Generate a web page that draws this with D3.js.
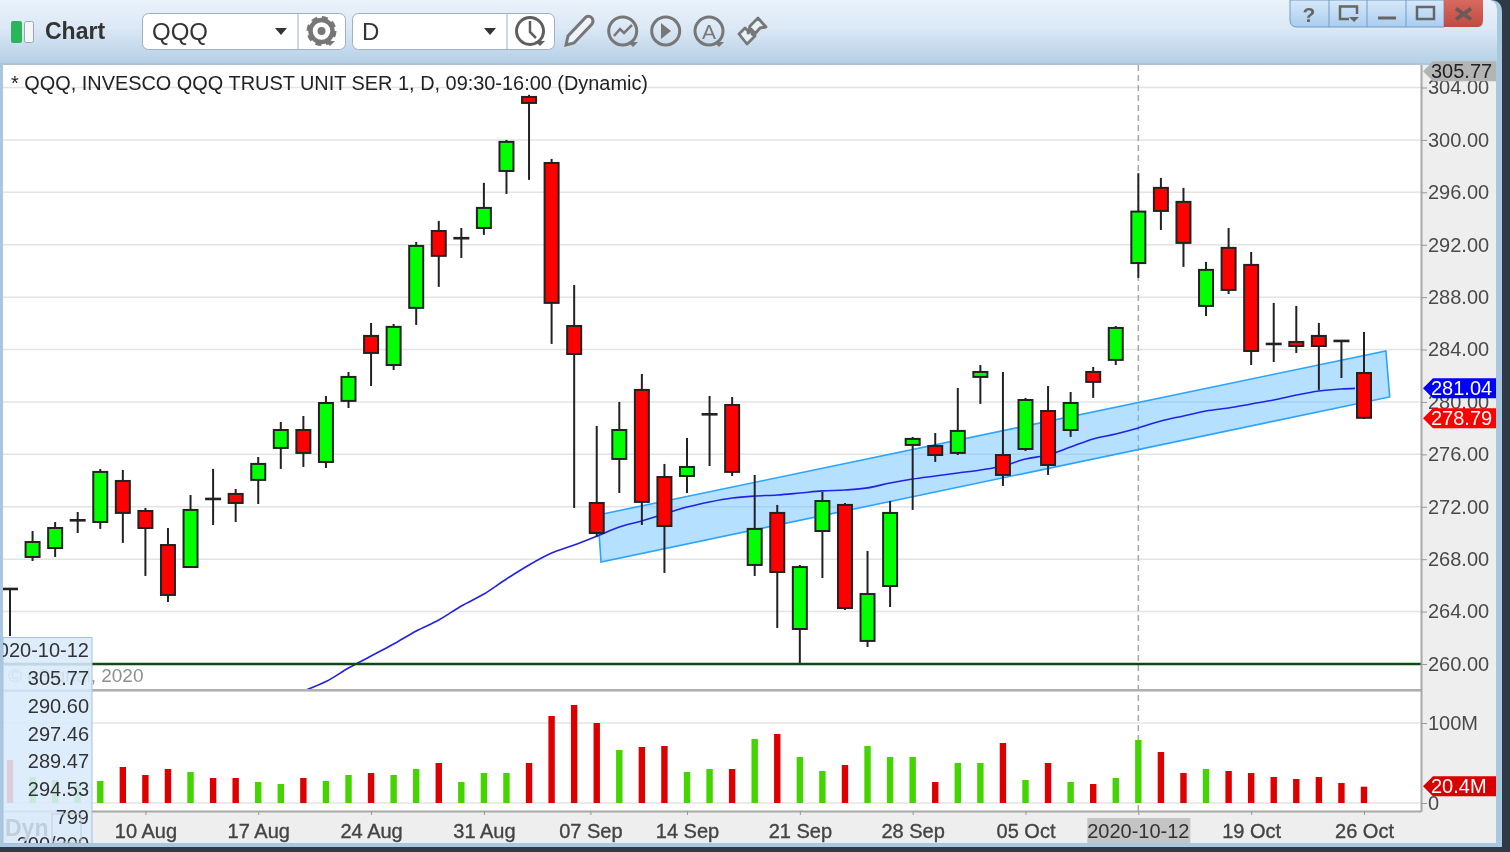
<!DOCTYPE html>
<html><head><meta charset="utf-8">
<script src="https://cdnjs.cloudflare.com/ajax/libs/d3/7.8.5/d3.min.js"></script>
<style>
html,body{margin:0;padding:0;background:#2e3a47;overflow:hidden}
svg{display:block;filter:blur(0.45px)}
text{font-family:"Liberation Sans",Arial,sans-serif}
</style></head><body><svg id="c" width="1510" height="852"></svg>
<script>
const dates=["2020-07-31","2020-08-03","2020-08-04","2020-08-05","2020-08-06","2020-08-07","2020-08-10","2020-08-11","2020-08-12","2020-08-13","2020-08-14","2020-08-17","2020-08-18","2020-08-19","2020-08-20","2020-08-21","2020-08-24","2020-08-25","2020-08-26","2020-08-27","2020-08-28","2020-08-31","2020-09-01","2020-09-02","2020-09-03","2020-09-04","2020-09-08","2020-09-09","2020-09-10","2020-09-11","2020-09-14","2020-09-15","2020-09-16","2020-09-17","2020-09-18","2020-09-21","2020-09-22","2020-09-23","2020-09-24","2020-09-25","2020-09-28","2020-09-29","2020-09-30","2020-10-01","2020-10-02","2020-10-05","2020-10-06","2020-10-07","2020-10-08","2020-10-09","2020-10-12","2020-10-13","2020-10-14","2020-10-15","2020-10-16","2020-10-19","2020-10-20","2020-10-21","2020-10-22","2020-10-23","2020-10-26"];
const opens=[265.75,268.17,268.85,270.97,270.84,273.97,271.68,269.08,267.40,272.62,272.98,274.05,276.49,277.86,275.42,280.08,285.04,282.82,287.18,293.05,292.50,293.28,297.63,303.28,298.24,285.80,272.29,275.65,280.92,274.27,274.35,279.06,279.77,267.56,271.53,262.67,270.15,272.14,261.76,265.95,276.72,276.64,276.11,281.91,275.95,276.41,279.31,277.86,282.29,283.21,290.60,296.34,295.27,287.33,291.76,290.46,284.45,284.58,285.04,284.68,282.21];
const highs=[265.80,270.15,270.84,271.60,274.89,274.81,271.91,270.38,272.90,274.89,273.36,275.80,278.47,278.93,280.46,282.29,286.03,285.95,292.21,293.82,293.28,296.72,300.00,303.44,298.55,288.93,278.17,280.00,282.14,275.27,277.25,280.46,280.38,274.43,272.14,267.56,273.13,272.29,268.63,272.44,277.33,277.63,281.07,282.82,282.29,280.31,281.22,280.76,282.67,285.80,297.46,297.10,296.34,290.69,293.28,291.45,287.56,287.33,286.03,284.73,285.34];
const lows=[262.14,267.86,268.17,270.00,270.31,269.24,266.72,264.73,267.40,270.61,270.84,272.21,274.89,275.04,274.96,279.54,281.22,282.44,285.88,288.78,290.99,292.75,295.88,296.95,284.43,271.91,269.69,273.05,270.61,266.95,273.05,275.11,274.35,266.72,262.75,260.08,266.56,264.12,261.30,264.35,271.76,275.42,275.95,279.85,273.59,276.26,274.43,277.33,280.31,282.82,289.47,293.13,290.31,286.56,288.24,282.82,283.05,283.74,280.92,281.83,278.70];
const closes=[265.72,269.31,270.38,270.99,274.66,271.53,270.38,265.27,271.76,272.60,272.29,275.27,277.86,276.11,279.92,281.91,283.74,285.73,291.91,291.15,292.52,294.81,299.85,302.82,287.56,283.66,270.00,277.86,272.37,270.53,275.04,279.08,274.66,270.31,267.02,267.40,272.44,264.27,265.34,271.53,277.18,275.95,277.79,282.29,274.43,280.15,275.19,279.92,281.53,285.65,294.53,294.58,292.14,290.08,288.55,283.89,284.43,284.27,284.27,284.66,278.79];
const volumes=[53.75,32.5,28.75,22.5,27.5,45,35,42.5,38.75,31.25,31.25,26.25,23.75,31.25,27.5,35,37.5,35,42.5,50,26.25,37.5,37.5,50,108.75,122.5,100,66.25,70,71.25,38.75,42.5,42.5,80,86.25,57.5,40,47.5,71.25,57.5,57.5,26.25,50,50,75,28.75,50,26.25,23.75,31.25,78.75,63.75,37.5,42.5,40,37.5,32.5,30,32.5,25,20.4];
const maIdx=[13,14,15,16,17,18,19,20,21,22,23,24,25,26,27,28,29,30,31,32,33,34,35,36,37,38,39,40,41,42,43,44,45,46,47,48,49,50,51,52,53,54,55,56,57,58,59,59.6];
const maVals=[257.94,258.66,259.69,260.61,261.53,262.52,263.36,264.43,265.34,266.49,267.56,268.47,269.08,269.75,270.45,270.92,271.45,271.98,272.37,272.67,272.82,272.90,273.05,273.21,273.28,273.44,273.82,274.12,274.35,274.58,274.81,275.11,275.65,275.95,276.56,277.18,277.56,278.02,278.55,278.93,279.31,279.54,279.85,280.15,280.53,280.84,280.99,281.04];
const channelIdx=[26.05,60.97,61.14,26.19];
const channelPrice=[271.37,283.89,280.38,267.79];
const priceTicks=[260,264,268,272,276,280,284,288,292,296,300,304];
const volTicks=[0,100];
const dateTickPos=[6,11,16,21,25.72,30,35,40,45,50,55,60];
const dateTickLabels=["10 Aug","17 Aug","24 Aug","31 Aug","07 Sep","14 Sep","21 Sep","28 Sep","05 Oct","2020-10-12","19 Oct","26 Oct"];
const legendRows=["305.77","290.60","297.46","289.47","294.53","799"];
const cursorIdx=50, lastHigh=305.77, maLast=281.04, lastClose=278.79, lastVol=20.4;

const svg=d3.select("#c");
const defs=svg.append("defs");
const grad=(id,stops)=>{const g=defs.append("linearGradient").attr("id",id).attr("x1",0).attr("y1",0).attr("x2",0).attr("y2",1);
 stops.forEach(s=>g.append("stop").attr("offset",s[0]).attr("stop-color",s[1]));};
grad("bar",[[0,"#eaf2fa"],[0.45,"#dbe8f5"],[1,"#b5d0e6"]]);
grad("btn",[[0,"#d8e8f8"],[1,"#a9cdf0"]]);
grad("close",[[0,"#d86a60"],[1,"#c04a42"]]);
defs.append("clipPath").attr("id","pc").append("rect").attr("x",3).attr("y",65).attr("width",1418).attr("height",624);

const x=d3.scaleLinear().domain([0,60]).range([10,1364]);
const y=d3.scaleLinear().domain([260,304]).range([664,87.5]);
const v=d3.scaleLinear().domain([0,100]).range([803,723]);

// window
svg.append("rect").attr("width",1510).attr("height",852).attr("fill","#2e3a47");
svg.append("path").attr("d","M0,847V0H1490Q1502,0 1502,12V847Z").attr("fill","#a9c8e0");
svg.append("path").attr("d","M0,63V0H1490Q1497,2 1497,10V63Z").attr("fill","url(#bar)");
svg.append("rect").attr("x",3).attr("y",65).attr("width",1418).attr("height",746).attr("fill","#fff");
svg.append("rect").attr("x",3).attr("y",812).attr("width",1493).attr("height",31).attr("fill","#eeeeee");
svg.append("rect").attr("x",1421).attr("y",65).attr("width",75).attr("height",778).attr("fill","#eeeeee");

// toolbar
const tb=svg.append("g");
tb.append("rect").attr("x",11).attr("y",21).attr("width",11).attr("height",22).attr("rx",2).attr("fill","#2cb45a");
tb.append("rect").attr("x",24.5).attr("y",21.5).attr("width",9).attr("height",21).attr("rx",2).attr("fill","#f4f6f8").attr("stroke","#9aa5b0");
tb.append("text").attr("x",45).attr("y",39).attr("font-size",23).attr("font-weight","bold").attr("fill","#333").text("Chart");
[[142.5,203,298,"QQQ",152,281],[352.5,202,507,"D",362,490]].forEach(b=>{
 tb.append("rect").attr("x",b[0]).attr("y",13.5).attr("width",b[1]).attr("height",36).attr("rx",6).attr("fill","#fff").attr("stroke","#9db0c4");
 tb.append("line").attr("x1",b[2]).attr("x2",b[2]).attr("y1",14).attr("y2",49).attr("stroke","#9db0c4");
 tb.append("text").attr("x",b[4]).attr("y",40).attr("font-size",24).attr("fill","#333").text(b[3]);
 tb.append("path").attr("d",`M${b[5]-6},28h12l-6,7z`).attr("fill","#333");
});
const ic="#777";
const tri=(cx,cy)=>tb.append("path").attr("d",`M${cx-5},${cy}h10l-5,5z`).attr("fill",ic);
// gear
tb.append("circle").attr("cx",321.5).attr("cy",31).attr("r",11).attr("fill","none").attr("stroke",ic).attr("stroke-width",4.5);
tb.append("circle").attr("cx",321.5).attr("cy",31).attr("r",13.5).attr("fill","none").attr("stroke",ic).attr("stroke-width",3).attr("stroke-dasharray","6 4.6");
tb.append("circle").attr("cx",321.5).attr("cy",31).attr("r",4).attr("fill",ic);
tri(330,41);
// clock
tb.append("circle").attr("cx",530).attr("cy",31).attr("r",13.5).attr("fill","none").attr("stroke","#5f5f5f").attr("stroke-width",3);
tb.append("path").attr("d","M530,21v11l6,6").attr("fill","none").attr("stroke","#5f5f5f").attr("stroke-width",2.5);
tb.append("path").attr("d","M535,41h10l-5,5z").attr("fill","#5f5f5f");
// pencil
tb.append("path").attr("d","M566,45l2,-9l18,-19q3,-2 6,1q2,3 0,6l-18,19z").attr("fill","#eef4fa").attr("stroke",ic).attr("stroke-width",3);
[622.7,665.7,709].forEach(c=>tb.append("circle").attr("cx",c).attr("cy",31).attr("r",14).attr("fill","none").attr("stroke",ic).attr("stroke-width",3));
tb.append("path").attr("d","M614,36l6,-7l4,4l8,-8").attr("fill","none").attr("stroke",ic).attr("stroke-width",2.5);
tb.append("path").attr("d","M661,23l10,8l-10,8z").attr("fill",ic);
tb.append("text").attr("x",709).attr("y",39).attr("text-anchor","middle").attr("font-size",21).attr("fill",ic).text("A");
tri(633,42); tri(719,42);
// arrows
tb.append("path").attr("d","M750,26l8,-8l8,9l-6,1l-6,7l-3,-4l-3,2zM739,34l6,-6l3,3l3,-2l4,4l-3,1l3,2l-8,8z").attr("fill","#e8f0f8").attr("stroke",ic).attr("stroke-width",2.8).attr("stroke-linejoin","round");

// window buttons
const bt=svg.append("g");
bt.append("path").attr("d","M1290,0V20Q1290,27 1297,27H1444V0Z").attr("fill","url(#btn)").attr("stroke","#6f9cc8");
bt.append("path").attr("d","M1444,0V27H1478Q1483,27 1483,20V0Z").attr("fill","url(#close)");
[1329,1367,1406].forEach(d=>bt.append("line").attr("x1",d).attr("x2",d).attr("y1",0).attr("y2",27).attr("stroke","#6f9cc8"));
bt.append("text").attr("x",1309).attr("y",22).attr("text-anchor","middle").attr("font-size",21).attr("font-weight","bold").attr("fill","#666").text("?");
bt.append("path").attr("d","M1357,14V6.5H1340V19H1349").attr("fill","none").attr("stroke","#666").attr("stroke-width",2.5);
bt.append("path").attr("d","M1349,17h10l-5,5z").attr("fill","#666");
bt.append("rect").attr("x",1378).attr("y",16.5).attr("width",18).attr("height",3).attr("fill","#666");
bt.append("rect").attr("x",1417).attr("y",7).attr("width",17).attr("height",12).attr("fill","none").attr("stroke","#666").attr("stroke-width",2.5);
bt.append("path").attr("d","M1456,8.5L1471,19.5M1471,8.5L1456,19.5").attr("stroke","#6a5a58").attr("stroke-width",4);

// grid
const grid=svg.append("g");
priceTicks.forEach(t=>grid.append("line").attr("x1",3).attr("x2",1421).attr("y1",y(t)).attr("y2",y(t)).attr("stroke","#e4e4e4").attr("stroke-width",1.5));
volTicks.forEach(t=>grid.append("line").attr("x1",3).attr("x2",1421).attr("y1",v(t)).attr("y2",v(t)).attr("stroke","#e4e4e4").attr("stroke-width",1.5));

// watermark / title
svg.append("text").attr("x",8).attr("y",682).attr("font-size",19).attr("fill","#8f8f8f").text("© eSignal, 2020");
svg.append("line").attr("x1",3).attr("x2",1421).attr("y1",y(lastHigh)).attr("y2",y(lastHigh)).attr("stroke","#bdbdbd").attr("stroke-width",1.5).attr("stroke-dasharray","5 3");
svg.append("text").attr("x",11).attr("y",90).attr("font-size",20).attr("fill","#222").attr("textLength",637).attr("lengthAdjust","spacingAndGlyphs").text("* QQQ, INVESCO QQQ TRUST UNIT SER 1, D, 09:30-16:00 (Dynamic)");

// cursor, behind the marks
const cx=x(cursorIdx);
svg.append("line").attr("x1",cx).attr("x2",cx).attr("y1",65).attr("y2",811).attr("stroke","#a8a8a8").attr("stroke-width",1.5).attr("stroke-dasharray","6 4");

const plot=svg.append("g").attr("clip-path","url(#pc)");
// channel
plot.append("polygon").attr("points",channelIdx.map((d,i)=>[x(d),y(channelPrice[i])].join(",")).join(" "))
 .attr("fill","rgba(100,190,255,0.48)").attr("stroke","#2ba4ff").attr("stroke-width",1.6);
// ma line
plot.append("path").attr("d",d3.line().x(d=>x(d)).y((d,i)=>y(maVals[i])).curve(d3.curveMonotoneX)(maIdx)).attr("fill","none").attr("stroke","#2222e6").attr("stroke-width",1.6);
// baseline at 260
svg.append("line").attr("x1",3).attr("x2",1421).attr("y1",y(260)).attr("y2",y(260)).attr("stroke","#0f4a12").attr("stroke-width",2.6);

// candles
const idx=d3.range(dates.length);
const c=plot.selectAll("g.k").data(idx).join("g").attr("class","k");
c.append("line").attr("x1",d=>x(d)).attr("x2",d=>x(d)).attr("y1",d=>y(highs[d])).attr("y2",d=>y(lows[d])).attr("stroke","#222").attr("stroke-width",2);
c.append("rect").attr("x",d=>x(d)-7).attr("width",14)
 .attr("y",d=>y(Math.max(opens[d],closes[d])))
 .attr("height",d=>Math.max(0.6,y(Math.min(opens[d],closes[d]))-y(Math.max(opens[d],closes[d]))))
 .attr("fill",d=>closes[d]>opens[d]?"#00ff00":"#ff0000").attr("stroke","#222").attr("stroke-width",2);
// doji drawn in black
c.filter(d=>Math.abs(opens[d]-closes[d])<0.1).select("rect").attr("fill","#222");

// volume
svg.selectAll("rect.v").data(idx).join("rect").attr("class","v")
 .attr("x",d=>x(d)-3.2).attr("width",6.4).attr("y",d=>v(volumes[d])).attr("height",d=>v(0)-v(volumes[d]))
 .attr("fill",d=>closes[d]>opens[d]?"#44d400":"#dd0000");

// frames
svg.append("rect").attr("x",3).attr("y",689).attr("width",1418).attr("height",2.6).attr("fill","#b0b0b0");
svg.append("rect").attr("x",3).attr("y",810.5).attr("width",1418).attr("height",2).attr("fill","#a8a8a8");
svg.append("rect").attr("x",1420.5).attr("y",65).attr("width",2).attr("height",747).attr("fill","#a8a8a8");

// axes
const axStyle=(g,col)=>{g.select(".domain").remove();g.selectAll("line").attr("stroke","#999");g.selectAll("text").attr("font-size",20).attr("fill",col).attr("font-family",'"Liberation Sans",Arial,sans-serif');};
svg.append("g").attr("transform","translate(1421,0)").call(d3.axisRight(y).tickValues(priceTicks).tickFormat(d3.format(".2f")).tickSize(6).tickPadding(1)).call(axStyle,"#4a4a4a");
svg.append("g").attr("transform","translate(1421,0)").call(d3.axisRight(v).tickValues(volTicks).tickFormat(d=>d?d+"M":"0").tickSize(6).tickPadding(1)).call(axStyle,"#4a4a4a");
const xa=d3.axisBottom(x).tickValues(dateTickPos).tickFormat((d,i)=>i===dateTickPos.indexOf(cursorIdx)?"":dateTickLabels[i]).tickSize(4).tickPadding(9);
svg.append("g").attr("transform","translate(0,811)").call(xa).call(axStyle,"#444");
svg.selectAll("g.tick text").filter(function(){return this.textContent.includes(" ");}).attr("stroke","#444").attr("stroke-width",0.35);

svg.append("rect").attr("x",cx-51).attr("y",818).attr("width",103).attr("height",25).attr("fill","#c4c4c4");
svg.append("text").attr("x",cx).attr("y",838).attr("text-anchor","middle").attr("font-size",20).attr("fill","#333").text(dateTickLabels[dateTickPos.indexOf(cursorIdx)]);

// tags
const tag=(py,fill,col,txt)=>{
 svg.append("path").attr("d",`M1423,${py}l10,-10H1496V${py+10}H1433z`).attr("fill",fill);
 svg.append("text").attr("x",1431).attr("y",py+7).attr("font-size",20).attr("fill",col).text(txt);
};
tag(y(lastHigh)+7,"#b4b4b4","#222",lastHigh.toFixed(2));
tag(y(maLast),"#0000ff","#fff",maLast.toFixed(2));
tag(y(lastClose)+.5,"#ff0000","#fff",lastClose.toFixed(2));
tag(v(lastVol)-.5,"#d80000","#fff",lastVol+"M");

// data window overlay
const ov=svg.append("g");
ov.append("rect").attr("x",3).attr("y",637.5).attr("width",89).attr("height",206).attr("fill","rgba(218,234,252,0.88)").attr("stroke","#a5c0da");
ov.append("line").attr("x1",3).attr("x2",92).attr("y1",665).attr("y2",665).attr("stroke","#c4d6e8");
ov.append("line").attr("x1",3).attr("x2",92).attr("y1",691).attr("y2",691).attr("stroke","#c4d6e8");
defs.append("clipPath").attr("id","ovc").append("rect").attr("x",3).attr("y",637).attr("width",89).attr("height",206);
const ovt=ov.append("g").attr("clip-path","url(#ovc)");
ovt.append("text").attr("x",89).attr("y",657).attr("text-anchor","end").attr("font-size",20).attr("fill","#333").text(dates[cursorIdx]);
legendRows.forEach((r,i)=>ovt.append("text").attr("x",89).attr("y",685+i*27.8).attr("text-anchor","end").attr("font-size",20).attr("fill","#333").text(r));
ovt.append("text").attr("x",89).attr("y",851).attr("text-anchor","end").attr("font-size",20).attr("fill","#333").text("200/200");
ovt.append("text").attr("x",5).attr("y",836).attr("font-size",23).attr("font-weight","bold").attr("fill","#c3cedb").text("Dyn");
ovt.append("rect").attr("x",52).attr("y",814).attr("width",29).attr("height",28).attr("fill","none").attr("stroke","#c3cedb");
</script></body></html>
